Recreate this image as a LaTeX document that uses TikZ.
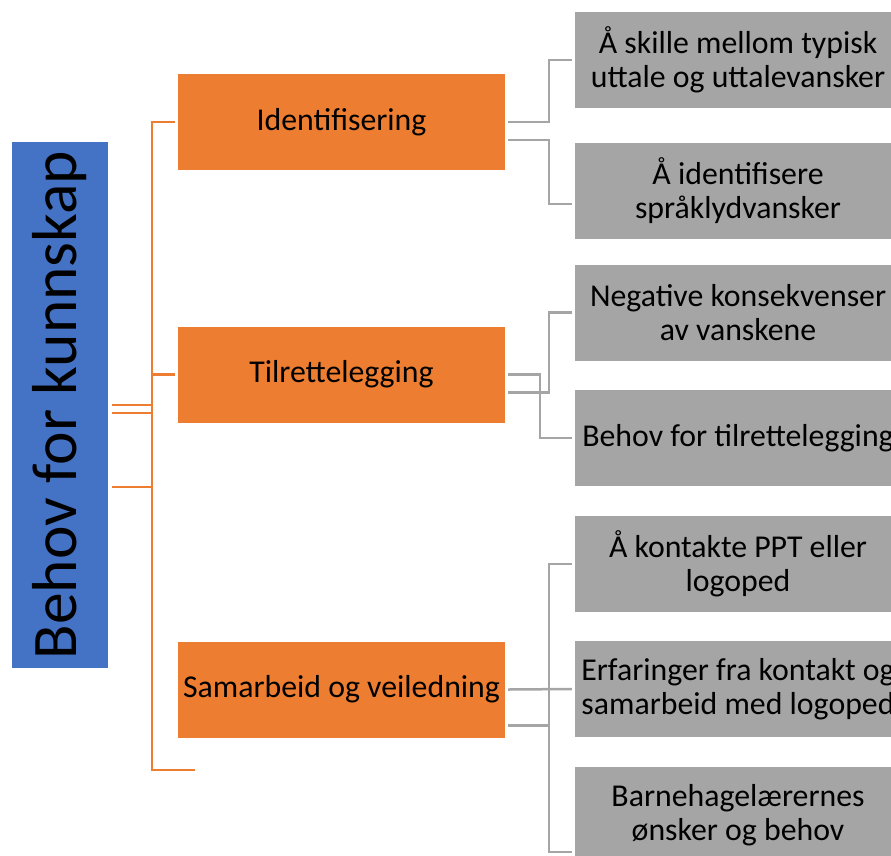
\documentclass[tikz,border=0pt]{standalone}
\usepackage{fontspec}
\setmainfont{Carlito}
\definecolor{cblue}{HTML}{4472C4}
\definecolor{corange}{HTML}{ED7D31}
\definecolor{cgray}{HTML}{A5A5A5}
\begin{document}
\begin{tikzpicture}[x=1pt,y=-1pt,
  rootbox/.style={fill=cblue, draw=none, minimum width=526pt, minimum height=96pt, rotate=90, inner sep=0pt, font=\fontsize{63.5}{70}\selectfont},
  obox/.style={fill=corange, minimum width=327pt, minimum height=96pt, inner sep=0pt, font=\fontsize{31.8}{34.5}\selectfont, align=center},
  gbox/.style={fill=cgray, minimum width=326pt, minimum height=96pt, inner sep=0pt, font=\fontsize{31.8}{34.5}\selectfont, align=center},
  oline/.style={draw=corange, line width=2.3pt},
  gline/.style={draw=cgray, line width=2.5pt},
]
\useasboundingbox (0,0) rectangle (891,855);
\clip (0,0) rectangle (891,855);
\node[rootbox] (root) at (60,405) {Behov for kunnskap};
\node[obox] (o1) at (341.5,122) {Identifisering};
\node[obox] (o2) at (341.5,374.5) {Tilrettelegging};
\node[obox] (o3) at (341.5,689.5) {Samarbeid og veiledning};
\node[gbox] (g1) at (738,60) {Å skille mellom typisk\\uttale og uttalevansker};
\node[gbox] (g2) at (738,190.5) {Å identifisere\\språklydvansker};
\node[gbox] (g3) at (738,312.5) {Negative konsekvenser\\av vanskene};
\node[gbox] (g4) at (738,438) {Behov for tilrettelegging};
\node[gbox] (g5) at (738,564) {Å kontakte PPT eller\\logoped};
\node[gbox] (g6) at (738,689) {Erfaringer fra kontakt og\\samarbeid med logoped};
\node[gbox] (g7) at (738,815) {Barnehagelærernes\\ønsker og behov};
\coordinate (oend) at (195,770);
% orange connectors
\draw[oline] ([xshift=4pt]root.south) -| ([xshift=-26pt]o1.west) -- ([xshift=-3pt]o1.west);
\draw[oline] ([xshift=4pt,yshift=-82pt]root.south) -| ([xshift=-26pt]o2.west) -- ([xshift=-3pt]o2.west);
\draw[oline] ([xshift=4pt,yshift=-8pt]root.south) -| ([xshift=-43pt]oend) -- (oend);
% gray connectors
\draw[gline] ([xshift=3pt]o1.east) -| ([xshift=-26pt]g1.west) -- ([xshift=-3pt]g1.west);
\draw[gline] ([xshift=3pt,yshift=-18pt]o1.east) -| ([xshift=-26pt,yshift=-13.5pt]g2.west) -- ([xshift=-3pt,yshift=-13.5pt]g2.west);
\draw[gline] ([xshift=3pt]o2.east) -| ([xshift=-35pt]g4.west) -- ([xshift=-3pt]g4.west);
\draw[gline] ([xshift=3pt,yshift=-18pt]o2.east) -| ([xshift=-26pt]g3.west) -- ([xshift=-3pt]g3.west);
\draw[gline] ([xshift=3pt]o3.east) -- ([xshift=-3pt]g6.west);
\draw[gline] ([xshift=3pt,yshift=-36pt]o3.east) -| ([xshift=-26pt]g5.west) -- ([xshift=-3pt]g5.west);
\draw[gline] ([xshift=3pt,yshift=-36pt]o3.east) -| ([xshift=-26pt,yshift=-37pt]g7.west) -- ([xshift=-3pt,yshift=-37pt]g7.west);
\end{tikzpicture}
\end{document}
